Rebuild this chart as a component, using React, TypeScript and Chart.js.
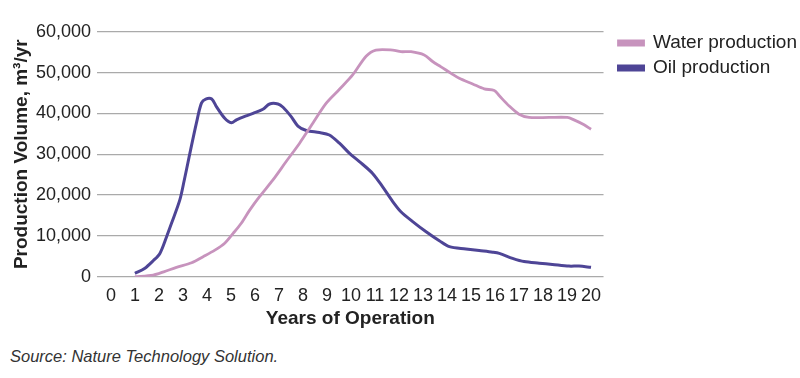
import React, { useEffect, useRef } from "react";
import { Chart, registerables } from "chart.js";
Chart.register(...registerables);

const yearTicks = [0, 1, 2, 3, 4, 5, 6, 7, 8, 9, 10, 11, 12, 13, 14, 15, 16, 17, 18, 19, 20];
const volumeTicks = [0, 10000, 20000, 30000, 40000, 50000, 60000];

const waterYears = [1.0, 1.76, 2.2, 2.73, 3.36, 3.84, 4.33, 4.74, 5.09, 5.43, 5.78, 6.19, 6.75, 7.3, 7.86, 8.41, 8.97, 9.52, 10.07, 10.63, 11.04, 11.74, 12.08, 12.5, 13.05, 13.4, 13.75, 14.17, 14.51, 15.07, 15.55, 15.97, 16.18, 16.59, 17.0, 17.42, 18.25, 19.01, 19.29, 19.71, 20.0];
const waterValues = [0, 400, 1200, 2300, 3400, 4900, 6500, 8200, 10600, 13100, 16300, 19600, 23700, 28200, 32700, 37600, 42500, 45900, 49400, 54000, 55500, 55500, 55100, 55100, 54300, 52700, 51400, 49800, 48600, 47200, 46000, 45600, 44300, 41800, 39800, 39000, 39000, 39000, 38400, 37200, 36100];

const oilYears = [1.0, 1.4, 1.76, 2.04, 2.32, 2.52, 2.87, 3.05, 3.26, 3.56, 3.77, 3.95, 4.2, 4.4, 4.74, 5.02, 5.23, 5.64, 5.92, 6.33, 6.61, 6.96, 7.17, 7.51, 7.79, 8.14, 8.69, 9.1, 9.52, 9.94, 10.35, 10.9, 11.32, 11.74, 12.08, 12.57, 13.13, 13.68, 14.1, 14.79, 15.34, 15.9, 16.18, 16.73, 17.21, 17.84, 18.39, 19.08, 19.5, 20.0];
const oilValues = [800, 2000, 3900, 5700, 9800, 13000, 18800, 23500, 29400, 37600, 42500, 43500, 43500, 41600, 38800, 37700, 38400, 39400, 40000, 41000, 42300, 42300, 41500, 39200, 36900, 35800, 35300, 34700, 32700, 30200, 28200, 25300, 22000, 18400, 15900, 13500, 11000, 8800, 7350, 6800, 6400, 6000, 5700, 4500, 3700, 3300, 3000, 2600, 2600, 2300];

const WATER_COLOR = "#c793bd";
const OIL_COLOR = "#4e4596";
const TEXT_COLOR = "#222222";
const FONT = "Liberation Sans, Arial, Helvetica, sans-serif";

const legendShift = {
  id: "legendShift",
  afterLayout(chart: any) {
    const lg = chart.legend;
    if (lg) {
      lg.left += 9;
      lg.right += 9;
    }
  },
};

export default function App() {
  const canvasRef = useRef<HTMLCanvasElement | null>(null);

  useEffect(() => {
    if (!canvasRef.current) return;
    const chart = new Chart(canvasRef.current, {
      type: "line",
      data: {
        datasets: [
          {
            label: "Water production",
            data: waterYears.map((x, i) => ({ x, y: waterValues[i] })),
            borderColor: WATER_COLOR,
            backgroundColor: WATER_COLOR,
            borderWidth: 2.8,
            pointRadius: 0,
            tension: 0.3,
          },
          {
            label: "Oil production",
            data: oilYears.map((x, i) => ({ x, y: oilValues[i] })),
            borderColor: OIL_COLOR,
            backgroundColor: OIL_COLOR,
            borderWidth: 3,
            pointRadius: 0,
            tension: 0.3,
          },
        ],
      },
      plugins: [legendShift],
      options: {
        animation: false,
        responsive: false,
        maintainAspectRatio: false,
        layout: { padding: { left: 6, right: 2, top: 27.5, bottom: 0 } },
        scales: {
          x: {
            type: "linear",
            min: -0.58,
            max: 20.52,
            afterBuildTicks: (scale: any) => {
              scale.ticks = yearTicks.map((v) => ({ value: v }));
            },
            afterFit: (scale: any) => {
              scale.height = 53.3;
            },
            ticks: {
              autoSkip: false,
              maxRotation: 0,
              font: { size: 18, family: FONT },
              color: TEXT_COLOR,
              padding: 9,
              callback: (v: any) => String(v),
            },
            grid: { display: false, drawTicks: false, tickLength: 0 },
            border: { display: false },
            title: {
              display: true,
              text: "Years of Operation",
              font: { size: 19, weight: "bold", family: FONT },
              color: TEXT_COLOR,
              padding: { top: 0, bottom: 0 },
            },
          },
          xTop: {
            type: "linear",
            position: "top",
            display: true,
            ticks: { display: false },
            grid: { display: false, drawTicks: false, tickLength: 0 },
            border: { display: false },
            afterFit: (scale: any) => {
              scale.height = 4.2;
            },
          },
          y: {
            min: 0,
            max: 60000,
            afterBuildTicks: (scale: any) => {
              scale.ticks = volumeTicks.map((v) => ({ value: v }));
            },
            afterFit: (scale: any) => {
              scale.width = 91;
            },
            ticks: {
              font: { size: 18, family: FONT },
              color: TEXT_COLOR,
              padding: 6,
              callback: (v: any) => Number(v).toLocaleString("en-US"),
            },
            grid: { color: "#aaaaaa", lineWidth: 1.2, drawTicks: false },
            border: { display: false },
            title: {
              display: true,
              text: "Production Volume, m³/yr",
              font: { size: 19, weight: "bold", family: FONT },
              color: TEXT_COLOR,
              padding: { top: 4, bottom: 4 },
            },
          },
        },
        plugins: {
          legend: {
            position: "right",
            align: "start",
            labels: {
              boxWidth: 25,
              boxHeight: 4,
              padding: 6,
              color: TEXT_COLOR,
              font: { size: 19, family: FONT },
            },
          },
          tooltip: { enabled: false },
        },
      },
    } as any);
    return () => chart.destroy();
  }, []);

  return (
    <div style={{ position: "absolute", left: 0, top: 0, width: 800, height: 378, background: "#ffffff" }}>
      <canvas ref={canvasRef} width={800} height={330} style={{ display: "block" }} />
      <div
        style={{
          position: "absolute",
          left: 10,
          top: 347,
          fontFamily: FONT,
          fontStyle: "italic",
          fontSize: 16.5,
          color: "#333333",
        }}
      >
        Source: Nature Technology Solution.
      </div>
    </div>
  );
}
